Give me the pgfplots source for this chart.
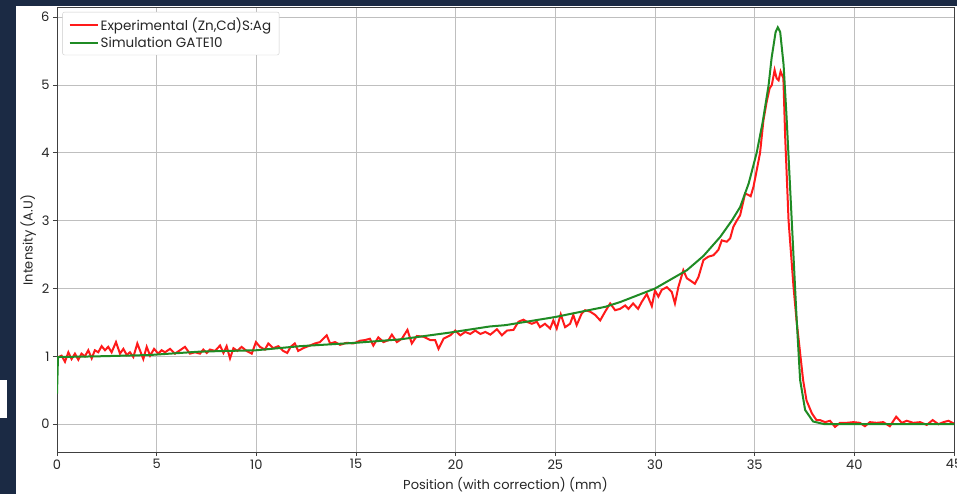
\documentclass[border=0pt]{standalone}
\usepackage{pgfplots}
\pgfplotsset{compat=1.18}
\usepackage{fontspec}
\setmainfont{Poppins}
\definecolor{navy}{HTML}{1B2A44}
\definecolor{expred}{HTML}{FF1A1A}
\definecolor{simgreen}{HTML}{1F8B24}
\begin{document}
\begin{tikzpicture}[x=1pt,y=1pt]
\fill[white] (0,0) rectangle (957,494);
\fill[navy] (0,0) rectangle (16,494);
\fill[navy] (0,488) rectangle (957,494);
\fill[white] (0,76) rectangle (7,114);
\path[use as bounding box] (0,0) rectangle (957,494);
\begin{axis}[
  at={(57pt,42pt)}, anchor=south west,
  scale only axis, width=897pt, height=445pt,
  xmin=0, xmax=45, ymin=-0.41, ymax=6.15,
  xtick={0,5,...,45}, ytick={0,1,...,6},
  grid=major, grid style={black!25, line width=0.7pt},
  axis line style={black!75, line width=0.9pt},
  tick style={black!75, line width=0.8pt},
  tick align=outside, major tick length=4pt, tick pos=left,
  /pgf/number format/assume math mode=true,
  ticklabel style={font=\fontsize{13}{15}\selectfont, text=black!85},
  xlabel={Position (with correction) (mm)},
  ylabel={Intensity (A.U)},
  label style={font=\fontsize{13}{15}\selectfont, text=black!85},
  xlabel style={at={(axis description cs:0.5,-0.074)}, anchor=center},
  ylabel style={at={(axis description cs:-0.032,0.476)}, anchor=center},
  legend style={at={(axis description cs:0.006,0.989)}, anchor=north west,
    draw=black!20, rounded corners=2pt, font=\fontsize{13.5}{15}\selectfont,
    text=black!85, inner xsep=6pt, inner ysep=4pt, row sep=1pt},
  legend cell align=left,
  legend image code/.code={\draw[#1] (0pt,0pt) -- (28pt,0pt);},
]
\addplot[expred, line width=2pt] coordinates {
(0.07,0.99) (0.23,1.01) (0.40,0.92) (0.57,1.06) (0.73,0.96) (0.90,1.04)
(1.07,0.95) (1.23,1.04) (1.40,1.00) (1.57,1.09) (1.74,0.97) (1.90,1.09)
(2.07,1.06) (2.24,1.15) (2.41,1.09) (2.57,1.14) (2.74,1.06) (2.96,1.21)
(3.16,1.04) (3.33,1.11) (3.50,1.02) (3.66,1.06) (3.83,0.99) (4.03,1.19)
(4.20,1.06) (4.33,0.96) (4.50,1.14) (4.67,1.01) (4.87,1.11) (5.08,1.04)
(5.25,1.09) (5.42,1.06) (5.67,1.11) (5.92,1.04) (6.17,1.09) (6.42,1.14)
(6.67,1.04) (6.92,1.06) (7.17,1.04) (7.34,1.10) (7.51,1.05) (7.68,1.10)
(7.93,1.08) (8.18,1.16) (8.35,1.05) (8.51,1.15) (8.68,0.97) (8.85,1.12)
(9.05,1.08) (9.26,1.14) (9.51,1.08) (9.77,1.04) (9.98,1.21) (10.18,1.14)
(10.43,1.10) (10.60,1.19) (10.85,1.12) (11.10,1.15) (11.35,1.08) (11.55,1.05)
(11.72,1.14) (11.93,1.19) (12.10,1.08) (12.35,1.12) (12.60,1.15) (12.94,1.19)
(13.19,1.21) (13.53,1.31) (13.70,1.19) (13.95,1.21) (14.20,1.17) (14.53,1.20)
(14.87,1.19) (15.20,1.23) (15.45,1.24) (15.70,1.26) (15.87,1.16) (16.12,1.28)
(16.38,1.21) (16.63,1.24) (16.80,1.32) (17.05,1.21) (17.30,1.26) (17.58,1.39)
(17.80,1.19) (18.05,1.30) (18.38,1.29) (18.72,1.24) (18.97,1.24) (19.14,1.11)
(19.39,1.26) (19.73,1.31) (19.98,1.38) (20.23,1.31) (20.48,1.36) (20.73,1.33)
(20.98,1.38) (21.24,1.33) (21.49,1.36) (21.74,1.32) (22.07,1.40) (22.32,1.31)
(22.57,1.38) (22.90,1.39) (23.15,1.51) (23.40,1.54) (23.57,1.51) (23.82,1.48)
(24.07,1.51) (24.23,1.43) (24.48,1.48) (24.74,1.41) (24.90,1.53) (25.07,1.41)
(25.27,1.62) (25.49,1.43) (25.74,1.48) (25.90,1.61) (26.07,1.46) (26.32,1.63)
(26.49,1.68) (26.74,1.66) (27.00,1.61) (27.25,1.53) (27.50,1.66) (27.75,1.78)
(28.00,1.68) (28.25,1.70) (28.50,1.75) (28.67,1.70) (28.90,1.78) (29.15,1.70)
(29.33,1.80) (29.59,1.92) (29.84,1.74) (30.00,1.97) (30.17,1.88) (30.34,1.98)
(30.59,2.02) (30.84,1.95) (31.00,1.78) (31.17,2.02) (31.42,2.27) (31.60,2.15)
(31.76,2.12) (32.00,2.07) (32.18,2.17) (32.43,2.42) (32.68,2.47) (32.93,2.49)
(33.18,2.57) (33.35,2.71) (33.60,2.69) (33.77,2.74) (33.93,2.91) (34.10,3.00)
(34.27,3.08) (34.52,3.40) (34.68,3.38) (34.80,3.36) (34.94,3.50) (35.10,3.74)
(35.27,4.00) (35.44,4.48) (35.60,4.75) (35.75,4.95) (35.86,5.00) (36.00,5.22)
(36.10,5.10) (36.20,5.07) (36.30,5.20) (36.44,5.10) (36.53,4.24) (36.70,3.00)
(36.95,2.02) (37.10,1.53) (37.43,0.65) (37.60,0.35) (37.87,0.16) (38.10,0.06)
(38.28,0.06) (38.53,0.03) (38.78,0.05) (39.03,-0.04) (39.28,0.02) (39.62,0.02)
(39.95,0.03) (40.28,0.02) (40.53,-0.03) (40.78,0.03) (41.12,0.02) (41.45,0.03)
(41.78,-0.03) (42.10,0.11) (42.38,0.02) (42.63,0.05) (42.96,0.02) (43.30,0.03)
(43.63,-0.01) (43.93,0.06) (44.22,0.00) (44.47,0.03) (44.72,0.05) (45.00,0.01)
};
\addlegendentry{Experimental (Zn,Cd)S:Ag}
\addplot[simgreen, line width=2pt] coordinates {
(0,0.45) (0.05,0.99) (2,1.00) (4.67,1.02) (7.18,1.07) (10,1.09) (12.19,1.15)
(15,1.20) (17.2,1.25) (19.7,1.35) (21.7,1.44) (22.5,1.46) (25,1.58)
(27.5,1.73) (28.25,1.80) (30,2.00) (31.6,2.27) (32.43,2.48) (33.27,2.76)
(33.85,3.00) (34.27,3.20) (34.7,3.55) (35.1,4.00) (35.4,4.45) (35.7,5.00)
(35.85,5.40) (36.05,5.78) (36.16,5.85) (36.28,5.78) (36.45,5.30) (36.6,4.53)
(36.86,3.00) (37.1,1.58) (37.28,0.65) (37.53,0.21) (37.93,0.04) (38.5,0.00)
(45,0.00)
};
\addlegendentry{Simulation GATE10}
\end{axis}
\end{tikzpicture}
\end{document}
